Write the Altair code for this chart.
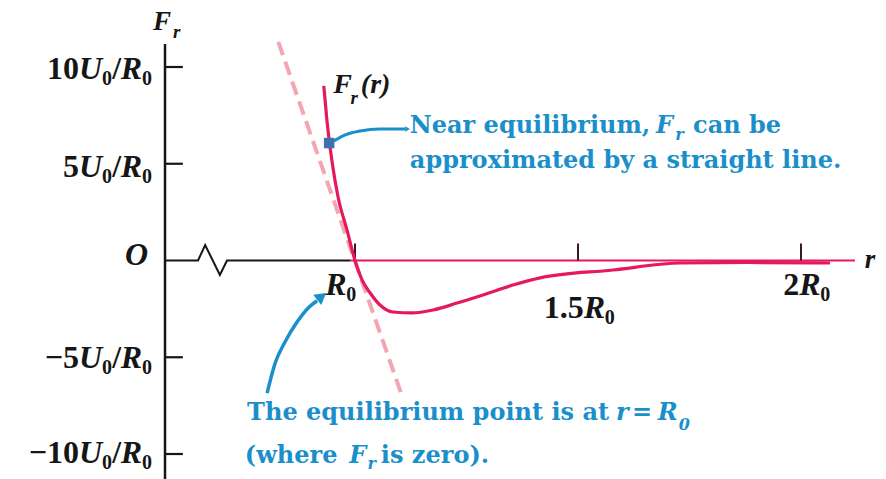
import altair as alt
import pandas as pd

# Radial force F_r(r) between two atoms; r in units of R0, F_r in units of U0/R0
r_vals = [0.930, 0.937, 0.948, 0.962, 0.982, 1.000, 1.016, 1.034, 1.056, 1.085,
          1.128, 1.175, 1.229, 1.287, 1.354, 1.415, 1.578, 1.729, 1.879, 2.065]
f_vals = [9.02, 7.26, 5.19, 3.28, 1.58, 0.00, -1.01, -1.68, -2.30, -2.66,
          -2.71, -2.56, -2.20, -1.78, -1.27, -0.90, -0.49, -0.13, -0.10, -0.13]

# Straight-line approximation through the equilibrium point
lin_r = [0.828, 1.104]
lin_f = [11.30, -6.90]

# Axis ticks: vertical ticks carry "<n>U0/R0", horizontal ticks "<n>R0"
y_ticks = [10, 5, -5, -10]
y_tick_nums = ["10", "5", "\u22125", "\u221210"]
y_label_base = [9.38, 4.32, -5.56, -10.47]
x_ticks = [1.0, 1.5, 2.0]
x_tick_nums = ["", "1.5", "2"]
x_label_left = [0.933, 1.423, 1.960]
x_label_base = [-1.78, -2.98, -1.78]

# Axis geometry (data units)
R_AXIS = 0.574
R_END = 2.121
F_TOP = 11.19
F_BOTTOM = -11.29
# horizontal axis with a break symbol near the origin
axis_r = [R_AXIS, 0.648, 0.664, 0.697, 0.713, 0.99]
axis_f = [0.0, 0.0, 0.80, -0.75, 0.0, 0.0]

# Annotation arrows
arrow1_r = [0.803, 0.821, 0.843, 0.870, 0.895, 0.915]
arrow1_f = [-6.85, -5.30, -4.21, -3.18, -2.45, -2.08]
arrow2_r = [0.953, 0.978, 1.011, 1.056, 1.112]
arrow2_f = [6.18, 6.49, 6.69, 6.80, 6.80]

X = alt.X("r:Q", scale=alt.Scale(domain=[0.2040, 2.1906], nice=False, zero=False), axis=None)
Y = alt.Y("f:Q", scale=alt.Scale(domain=[-11.292, 13.463], nice=False, zero=False), axis=None)

SERIF = "Liberation Serif"
BLUE_FONT = "DejaVu Serif"
CRIMSON = "#e5195b"
BLUE = "#1b8fca"
INK = "#161616"


def frame(r, f):
    return pd.DataFrame({"r": r, "f": f})


def texts(rows, size, color=INK, italic=False, bold=True, align="left", font=SERIF, dx=0, dy=0):
    df = pd.DataFrame(rows, columns=["t", "r", "f"])
    return alt.Chart(df).mark_text(
        align=align, baseline="alphabetic", fontSize=size, font=font,
        fontWeight="bold" if bold else "normal",
        fontStyle="italic" if italic else "normal", color=color, dx=dx, dy=dy,
    ).encode(x=X, y=Y, text="t:N")


# dashed tangent line
tangent = alt.Chart(frame(lin_r, lin_f)).mark_line(
    color="#f39ca7", strokeWidth=4, strokeDash=[14, 7], opacity=0.9
).encode(x=X, y=Y)

# axes
v_axis = alt.Chart(frame([R_AXIS], [F_TOP])).mark_rule(color=INK, strokeWidth=2.5).encode(
    x=X, y=Y, y2=alt.Y2(datum=F_BOTTOM))
h_axis_left = alt.Chart(frame(axis_r, axis_f)).mark_line(color=INK, strokeWidth=2).encode(x=X, y=Y)
h_axis_right = alt.Chart(frame([0.99], [0.0])).mark_rule(color=CRIMSON, strokeWidth=2).encode(
    x=X, x2=alt.X2(datum=R_END), y=Y)

y_tick_df = pd.DataFrame({"r": [R_AXIS] * len(y_ticks), "f": y_ticks})
y_tick_marks = alt.Chart(y_tick_df).mark_rule(color=INK, strokeWidth=2.2).encode(
    x=X, x2=alt.X2(datum=R_AXIS + 0.040), y=Y)
x_tick_df = pd.DataFrame({"r": x_ticks, "f": [0.0] * len(x_ticks)})
x_tick_marks = alt.Chart(x_tick_df).mark_rule(color="#3a1a22", strokeWidth=2).encode(
    x=X, y=Y, y2=alt.Y2(datum=0.88))

# the force curve
curve = alt.Chart(frame(r_vals, f_vals)).mark_line(
    color=CRIMSON, strokeWidth=3.2, interpolate="monotone"
).encode(x=X, y=Y)

# arrows and marker
arrow1 = alt.Chart(frame(arrow1_r, arrow1_f)).mark_line(
    color=BLUE, strokeWidth=3.5, interpolate="monotone").encode(x=X, y=Y)
arrow1_head = alt.Chart(frame([0.922], [-1.92])).mark_point(
    shape="triangle", filled=True, size=170, angle=52, color=BLUE, opacity=1).encode(x=X, y=Y)
arrow2 = alt.Chart(frame(arrow2_r, arrow2_f)).mark_line(
    color=BLUE, strokeWidth=3, interpolate="monotone").encode(x=X, y=Y)
arrow2_head = alt.Chart(frame([1.116], [6.80])).mark_point(
    shape="triangle", filled=True, size=30, angle=90, color=BLUE, opacity=1).encode(x=X, y=Y)
marker = alt.Chart(frame([0.942], [6.07])).mark_square(
    size=110, color="#3c71ab", opacity=1).encode(x=X, y=Y)

# vertical tick labels, set piece by piece from their right edge:
# number, italic U, subscript 0, slash, italic R, subscript 0
Y_RIGHT = 0.545
y_rows_num = [(n, Y_RIGHT, b) for n, b in zip(y_tick_nums, y_label_base)]
y_rows = lambda t: [(t, Y_RIGHT, b) for b in y_label_base]
y_label_layers = [
    texts(y_rows_num, 32, align="right", dx=-73),
    texts(y_rows("U"), 32, italic=True, align="right", dx=-50),
    texts(y_rows("0"), 20, align="right", dx=-40, dy=6),
    texts(y_rows("/"), 32, align="right", dx=-31),
    texts(y_rows("R"), 32, italic=True, align="right", dx=-10),
    texts(y_rows("0"), 20, align="right", dx=0, dy=6),
]
origin = texts([("O", 0.536, -0.23)], 32, italic=True, align="right")

# horizontal tick labels: number, italic R, subscript 0 (set from their left edge)
x_rows_num = [(n, l, b) for n, l, b in zip(x_tick_nums, x_label_left, x_label_base)]
x_num_width = {"": 0, "1.5": 40, "2": 16}
x_label_layers = [texts(x_rows_num, 32)]
for n, l, b in zip(x_tick_nums, x_label_left, x_label_base):
    w = x_num_width[n]
    x_label_layers.append(texts([("R", l, b)], 32, italic=True, dx=w))
    x_label_layers.append(texts([("0", l, b)], 20, dx=w + 21, dy=6))

f_title = texts([("F", 0.547, 11.91), ("r", 2.143, -0.39)], 27, italic=True)
f_curve = texts([("F", 0.951, 8.66), ("(r)", 1.013, 8.66)], 28, italic=True)
f_subs = texts([("r", 0.592, 11.50), ("r", 0.990, 8.10)], 19, italic=True)

blue_regular = texts([
    ("Near equilibrium,", 1.123, 6.59),
    ("can be", 1.758, 6.59),
    ("approximated by a straight line.", 1.123, 4.78),
    ("The equilibrium point is at", 0.758, -8.24),
    ("=", 1.621, -8.24),
    ("(where", 0.753, -10.47),
    ("is zero).", 1.058, -10.47),
], 24, color=BLUE, font=BLUE_FONT)
blue_italic = texts([
    ("F", 1.675, 6.59),
    ("r", 1.585, -8.24),
    ("R", 1.679, -8.24),
    ("F", 0.987, -10.47),
], 24, color=BLUE, italic=True, font=BLUE_FONT)
blue_subs = texts([
    ("r", 1.718, 6.22),
    ("0", 1.726, -8.75),
    ("r", 1.028, -10.80),
], 16, color=BLUE, italic=True, font=BLUE_FONT)

chart = alt.layer(
    tangent, v_axis, h_axis_left, h_axis_right, y_tick_marks, x_tick_marks, curve,
    arrow1, arrow1_head, arrow2, arrow2_head, marker,
    *y_label_layers, origin, *x_label_layers, f_title, f_curve, f_subs,
    blue_regular, blue_italic, blue_subs,
).properties(
    width=886, height=479, padding=0, background="white",
    autosize=alt.AutoSizeParams(type="none"),
).configure_view(stroke=None)

chart.save("out.html", embed_options={"renderer": "svg", "actions": False})
